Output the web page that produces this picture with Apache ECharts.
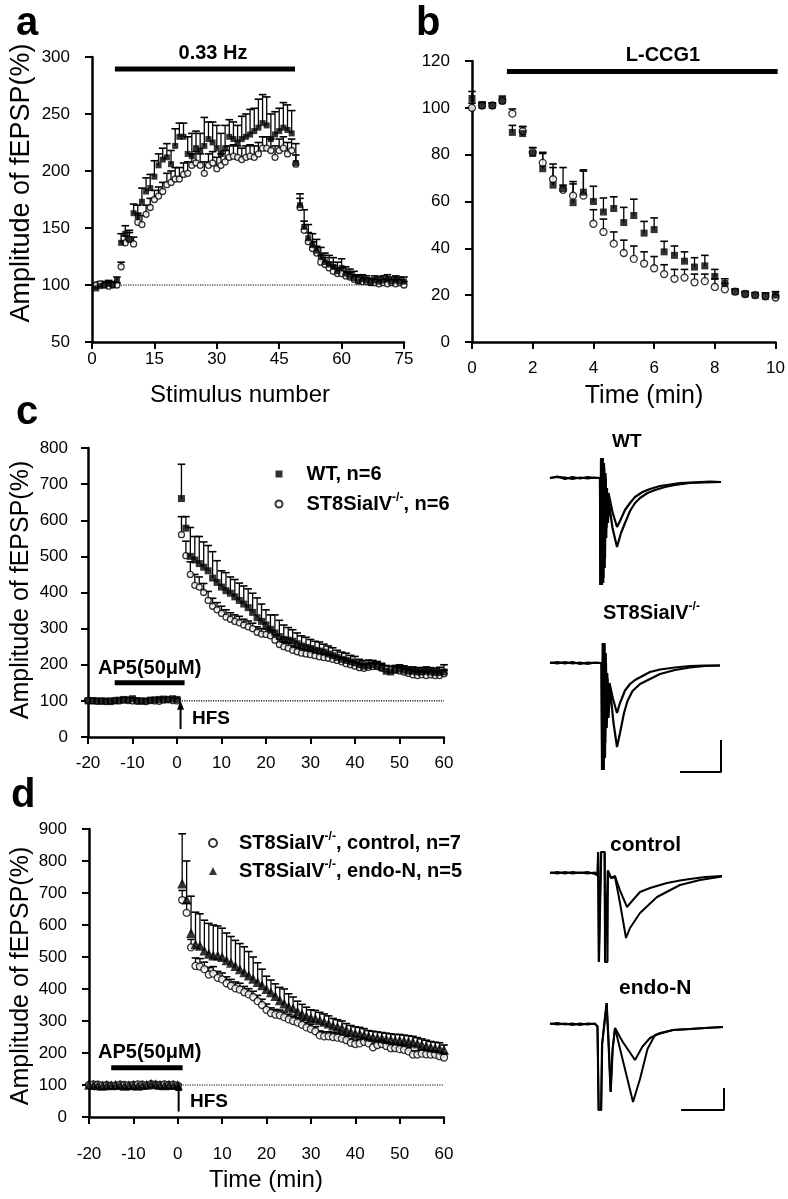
<!DOCTYPE html>
<html>
<head>
<meta charset="utf-8">
<script src="https://cdn.jsdelivr.net/npm/echarts@6/dist/echarts.min.js"></script>
<style>
html,body{margin:0;padding:0;background:#fff;}
#chart{width:788px;height:1199px;}
</style>
</head>
<body>
<div id="chart"></div>
<script>
// ---------------- Panel a: stimulus number vs amplitude ----------------
const aStim = [1,2,3,4,5,6,7,8,9,10,11,12,13,14,15,16,17,18,19,20,21,22,23,24,25,26,27,28,29,30,31,32,33,34,35,36,37,38,39,40,41,42,43,44,45,46,47,48,49,50,51,52,53,54,55,56,57,58,59,60,61,62,63,64,65,66,67,68,69,70,71,72,73,74,75];
const aWT = [97,99,100,101,100,104,137,145,140,163, 160,173,182,185,195,205,210,212,206,222, 230,230,215,213,220,218,222,228,225,220, 215,220,230,228,225,228,230,232,235,238, 242,240,228,232,235,238,236,233,207,170, 151,141,135,130,125,120,118,116,112,115, 110,108,106,103,105,104,102,104,103,104, 105,103,104,103,103];
const aWTErr = [3,3,3,3,3,3,8,7,8,8, 10,12,12,12,14,10,10,12,12,15, 12,12,15,20,15,15,25,15,18,20, 18,20,15,15,15,20,20,22,20,25, 25,25,22,20,20,22,22,20,17,10, 15,12,10,10,8,8,8,8,8,8, 6,6,6,6,4,4,4,4,4,4, 4,4,4,4,4];
const aKO = [100,101,100,99,100,100,116,137,140,136, 155,153,162,168,175,178,182,188,190,193, 193,197,198,205,207,205,198,205,207,202, 205,208,212,213,212,210,212,213,212,215, 220,220,218,212,218,220,215,218,206,168, 148,138,132,128,120,118,115,112,110,110, 108,107,105,104,103,103,102,102,101,102, 101,102,101,102,100];
const aKOErr = [2,2,2,2,2,2,4,6,6,6, 8,8,8,8,8,8,8,10,10,10, 10,10,10,10,10,10,10,10,10,10, 10,10,10,10,10,10,10,10,10,10, 10,10,10,10,10,10,10,10,8,8, 8,8,6,6,6,6,5,5,5,5, 4,4,4,4,3,3,3,3,3,3, 3,3,3,3,3];
const aTicksX = [0, 75, 15];      // min, max, interval
const aTicksY = [50, 300, 50];
const aStimBar = [[5.5, 289.5], [48.8, 289.5]];   // 0.33 Hz period
const baseline = 100;

// ---------------- Panel b: L-CCG1 time course ----------------
const bTime = [0,0.33,0.67,1,1.33,1.67,2,2.33,2.67,3,3.33,3.67,4,4.33,4.67,5,5.33,5.67,6,6.33,6.67,7,7.33,7.67,8,8.33,8.67,9,9.33,9.67,10];
const bWT = [104,101,101,103,89.5,89,80.5,74,67,65.5,59.5,64,60,55.5,57,51,54,46.5,48,38.5,37,34.5,32,32.5,28,25,21.5,20.5,20,19.5,20];
const bWTErr = [3,1.5,1,2,3,3,2.5,7,9,9,8,9,6.5,6,5,6.5,7,5,5,4.5,4,4,4,4.5,3,2,1,1,1,1.5,1.5];
const bKO = [100,101,101,103,97.5,90,81,76.5,69.5,65,62.5,62.5,50.5,47,42,38,35.5,33.5,31.5,29,27,27.5,25.5,26,23.5,22.5,21.5,20.5,20,19.5,19];
const bKOErr = [2,1,1,1,2,2,2,4,5,2,6,11,6,5.5,5,5.5,5.5,5,5,4,4,3.5,3.5,3,3.5,2.5,1,1,1,1,1];
const bTicksX = [0, 10, 2];
const bTicksY = [0, 120, 20];
const bDrugBar = [[1.15, 115.5], [10.07, 115.5]];   // L-CCG1 period

// ---------------- Panels c & d: LTP time course ----------------
const cdTime = [-20,-19,-18,-17,-16,-15,-14,-13,-12,-11,-10,-9,-8,-7,-6,-5,-4,-3,-2,-1,0,
  1,2,3,4,5,6,7,8,9,10,11,12,13,14,15,16,17,18,19,20,21,22,23,24,25,26,27,28,29,30,
  31,32,33,34,35,36,37,38,39,40,41,42,43,44,45,46,47,48,49,50,51,52,53,54,55,56,57,58,59,60];
const cWT = [100,101,100,99,100,98,100,102,104,103,106,101,99,100,102,103,104,105,104,106,104,
  660,578,500,490,480,470,460,440,428,415, 405,398,388,378,368,358,345,330,320,310,
  298,288,278,270,268,265,258,252,248,245, 240,238,235,230,225,220,215,212,208,205,
  200,196,198,200,197,192,182,180,186,188, 185,182,182,180,180,182,180,178,178,180];
const cWTErr = [3,3,3,3,3,3,3,3,3,3,3,3,3,3,3,3,3,3,3,3,3,
  95,32,80,65,75,70,70,73,60,45, 50,45,48,48,50,52,53,55,48,42,
  40,50,45,40,35,32,30,28,28,25, 25,25,22,22,22,20,20,20,18,18,
  15,15,15,12,12,12,12,12,12,12, 12,12,12,12,12,12,12,12,15,20];
const cKO = [101,100,99,100,98,100,101,100,102,101,100,99,100,98,101,100,99,102,103,101,100,
  560,502,450,420,415,400,378,362,352,342, 332,326,320,316,310,305,300,290,285,284,
  280,268,256,250,246,240,236,232,230,228, 225,222,220,218,215,212,208,203,200,196,
  192,190,193,195,195,190,188,186,185,183, 180,176,172,170,172,170,172,170,170,175];
const cKOErr = [3,3,3,3,3,3,3,3,3,3,3,3,3,3,3,3,3,3,3,3,3,
  50,40,35,30,28,25,25,22,20,20, 20,18,18,18,16,16,15,15,15,15,
  15,15,14,14,14,12,12,12,12,12, 12,10,10,10,10,10,10,10,10,10,
  10,10,10,10,10,10,10,10,10,10, 10,10,10,10,10,10,10,10,10,10];
const dCtrl = [100,102,101,99,100,98,99,101,100,99,100,102,101,99,103,101,100,102,100,101,98,
  678,638,530,472,470,462,445,448,435,430, 418,410,402,398,390,383,375,362,350,335,
  325,320,318,312,305,300,295,288,280,275, 268,255,252,252,250,248,245,240,232,228,
  230,235,230,218,225,228,222,215,215,212, 210,205,195,195,198,196,195,195,190,186];
const dCtrlErr = [3,3,3,3,3,3,3,3,3,3,3,3,3,3,3,3,3,3,3,3,3,
  30,30,25,25,25,22,22,22,20,20, 20,20,20,20,18,18,18,18,18,18,
  16,16,16,16,16,15,15,15,15,15, 14,14,14,14,14,14,14,14,12,12,
  12,12,12,12,12,12,12,12,12,12, 12,12,12,12,12,12,12,12,12,12];
const dEndo = [101,100,99,98,100,99,101,100,98,99,100,98,100,101,104,102,100,99,101,100,100,
  730,680,575,540,535,520,510,505,505,500, 490,482,472,462,452,442,432,422,412,400,
  390,378,365,355,345,340,330,322,315,310, 308,302,298,292,286,282,278,272,266,262,
  260,256,252,250,248,246,244,242,240,240, 238,236,234,230,226,222,218,216,214,210];
const dEndoErr = [3,3,3,3,3,3,3,3,3,3,3,3,3,3,3,3,3,3,3,3,3,
  155,120,115,100,100,95,95,95,92,90, 85,82,80,80,80,75,68,60,50,40,
  38,38,40,45,40,35,32,30,28,25, 25,25,24,24,22,22,22,20,20,20,
  20,20,18,18,18,18,18,18,18,18, 18,18,18,18,18,18,18,18,18,15];
const cdTicksX = [-20, 60, 10];
const cTicksY = [0, 800, 100];
const dTicksY = [0, 900, 100];
const cAP5Bar = [[-14, 150], [1.7, 150]];
const dAP5Bar = [[-15, 154], [1.1, 154]];
const cHFS = [[0.8, 22], [0.8, 88]];
const dHFS = [[0.2, 17], [0.2, 95]];
const cdDotted = [[0, 100], [60, 100]];

// ---------------- Example fEPSP traces ([ms, mV]) ----------------
const trWTpre = [[0,0],[1.5,0.03],[3,-0.02],[4.5,0.02],[6,-0.01],[7.5,0.02],[9,0],[10,0],[10.05,-2.14],[10.2,0.4],[10.35,-2.14],[10.5,0.4],[10.65,-2.1],[10.8,0.3],[10.95,-1.8],[11.1,0.1],[11.25,-1.2],[11.4,-0.2],[11.55,-0.8],[11.7,-0.3],[12.5,-0.68],[13.4,-0.98],[14,-0.86],[15,-0.64],[16,-0.5],[17,-0.38],[18.5,-0.28],[20,-0.22],[22,-0.16],[24,-0.13],[26,-0.1],[28,-0.09],[30,-0.08],[32,-0.07],[34.2,-0.08]];
const trWTpost = [[0,0],[1.5,0.02],[3,0.01],[4.5,-0.02],[6,0.01],[7.5,-0.01],[9,0.01],[10,0],[10.1,-2.14],[10.25,0.4],[10.4,-2.14],[10.55,0.4],[10.7,-2.0],[10.85,0.2],[11.0,-1.6],[11.15,0.0],[11.3,-1.0],[11.45,-0.3],[11.6,-0.9],[11.8,-0.5],[12.5,-1.0],[13.4,-1.38],[14.2,-1.1],[15,-0.9],[16,-0.66],[17,-0.5],[18,-0.4],[19.5,-0.3],[21,-0.24],[23,-0.18],[25,-0.14],[28,-0.1],[31,-0.09],[34.2,-0.08]];
const trKOpre = [[0,0],[1.5,0.02],[3,-0.01],[4.5,0.02],[6,-0.02],[7.5,0.01],[9,0],[10.3,0],[10.4,-2.14],[10.55,0.4],[10.7,-2.14],[10.85,0.4],[11.0,-1.9],[11.15,0.2],[11.3,-1.2],[11.45,-0.2],[11.6,-1.0],[11.9,-0.4],[12.6,-0.72],[13.4,-1.0],[14,-0.8],[15,-0.55],[16,-0.42],[17,-0.34],[18.5,-0.26],[20,-0.18],[22,-0.13],[25,-0.09],[28,-0.06],[31,-0.05],[34,-0.05]];
const trKOpost = [[0,0.01],[1.5,-0.01],[3,0.02],[4.5,-0.01],[6,0.01],[7.5,-0.02],[9,0.01],[10.3,0],[10.45,-2.14],[10.6,0.4],[10.75,-2.14],[10.9,0.4],[11.05,-1.6],[11.2,0.0],[11.35,-1.3],[11.5,-0.3],[11.7,-1.1],[12,-0.5],[12.7,-1.2],[13.4,-1.68],[14,-1.4],[14.8,-1.0],[15.5,-0.76],[16.5,-0.56],[18,-0.42],[20,-0.32],[22,-0.22],[25,-0.14],[28,-0.09],[31,-0.06],[34,-0.05]];
const trCtrlPre = [[0,0],[1.5,0.02],[3,-0.01],[4.5,0.02],[6,0],[7.5,0.02],[9,-0.02],[9.5,-0.05],[9.6,0.42],[9.75,-1.78],[10.1,-1.78],[10.2,0.42],[10.9,0.42],[11.0,-1.78],[11.5,-1.78],[11.6,0.05],[12.2,-0.1],[13,-0.06],[14,-0.35],[15.4,-0.68],[16.5,-0.55],[18,-0.38],[20,-0.3],[23.4,-0.2],[26,-0.15],[28,-0.12],[31,-0.08],[34.4,-0.06]];
const trCtrlPost = [[0,0.01],[1.5,-0.01],[3,0.02],[4.5,-0.01],[6,0.01],[7.5,-0.01],[9,0.01],[9.5,-0.05],[9.65,0.42],[9.8,-1.78],[10.15,-1.78],[10.25,0.42],[10.95,0.42],[11.05,-1.78],[11.45,-1.78],[11.55,0.05],[12.2,-0.1],[13,-0.08],[14,-0.6],[15.2,-1.3],[16,-1.1],[18,-0.8],[21.4,-0.48],[26,-0.24],[30,-0.14],[34.4,-0.07]];
const trEndoPre = [[0,0],[1.5,0.02],[3,-0.01],[4.5,0.01],[6,-0.02],[7.5,0.01],[9,0],[9.5,-0.05],[9.7,-1.72],[10.2,-1.72],[10.4,-0.4],[11.3,0.42],[11.7,-0.4],[12.1,-1.36],[12.5,-0.5],[13,-0.08],[14.5,-0.35],[17,-0.72],[18.5,-0.45],[20,-0.28],[22,-0.18],[24.6,-0.12],[28,-0.1],[31,-0.08],[34.6,-0.06]];
const trEndoPost = [[0,0.01],[1.5,-0.01],[3,0.01],[4.5,-0.02],[6,0.01],[7.5,-0.01],[9,0.01],[9.5,-0.05],[9.75,-1.72],[10.25,-1.72],[10.45,-0.4],[11.35,0.42],[11.75,-0.4],[12.15,-1.36],[12.55,-0.5],[13,-0.08],[14.5,-0.7],[16.6,-1.56],[18,-1.1],[19.5,-0.5],[21,-0.22],[24.6,-0.12],[28,-0.1],[31,-0.08],[34.6,-0.06]];
const scaleBarC = [[26,-2.18],[34.2,-2.18],[34.2,-1.54]];
const scaleBarD = [[26.2,-1.72],[34.8,-1.72],[34.8,-1.28]];

// ---------------- Build chart ----------------
const FONT = 'Liberation Sans, Arial, Helvetica, sans-serif';
const BLACK = '#000';

function valAxis(gi, t, margin) {
  return {
    type: 'value', gridIndex: gi, min: t[0], max: t[1], interval: t[2],
    axisLine: {show: true, onZero: false, lineStyle: {color: BLACK, width: 2.5}},
    axisTick: {show: true, length: 7, lineStyle: {color: BLACK, width: 2}},
    axisLabel: {color: BLACK, fontSize: 17, fontFamily: FONT, margin: margin},
    splitLine: {show: false}
  };
}
function hiddenAxis(gi, min, max) {
  return {type: 'value', gridIndex: gi, min: min, max: max, show: false, splitLine: {show: false}};
}

function errRender(params, api) {
  const x = api.value(0), y = api.value(1), e = api.value(2);
  const p0 = api.coord([x, y]);
  const p1 = api.coord([x, y + e]);
  const hw = 3.8;
  return {
    type: 'group',
    children: [
      {type: 'line', shape: {x1: p0[0], y1: p0[1], x2: p1[0], y2: p1[1]}, style: {stroke: BLACK, lineWidth: 1.3}},
      {type: 'line', shape: {x1: p1[0] - hw, y1: p1[1], x2: p1[0] + hw, y2: p1[1]}, style: {stroke: BLACK, lineWidth: 1.6}}
    ]
  };
}
function errSeries(gi, xs, ys, es) {
  return {
    type: 'custom', xAxisIndex: gi, yAxisIndex: gi, silent: true, clip: false, z: 2,
    data: xs.map((x, i) => [x, ys[i], es[i]]),
    encode: {x: 0, y: 1},
    renderItem: errRender
  };
}
const MARK = {
  square: {symbol: 'rect', symbolSize: 6, itemStyle: {color: BLACK}},
  circle: {symbol: 'circle', symbolSize: 6, itemStyle: {color: '#fff', borderColor: BLACK, borderWidth: 1.3}},
  triangle: {symbol: 'triangle', symbolSize: 9, itemStyle: {color: BLACK}}
};
function scatterSeries(name, gi, xs, ys, kind, size, z) {
  const m = MARK[kind];
  return {
    type: 'scatter', name: name, xAxisIndex: gi, yAxisIndex: gi, clip: false, silent: true,
    symbol: m.symbol, symbolSize: size || m.symbolSize, itemStyle: m.itemStyle, z: z || 3,
    data: xs.map((x, i) => [x, ys[i]])
  };
}
function lineSeries(gi, data, width, type, z) {
  return {
    type: 'line', xAxisIndex: gi, yAxisIndex: gi, data: data, symbol: 'none', silent: true, clip: false,
    lineStyle: {color: BLACK, width: width, type: type || 'solid'}, z: z || 1
  };
}
function arrowSeries(gi, pts) {
  return {
    type: 'line', xAxisIndex: gi, yAxisIndex: gi, silent: true, clip: false, z: 4,
    lineStyle: {color: BLACK, width: 2},
    data: [
      {value: pts[0], symbol: 'none'},
      {value: pts[1], symbol: 'triangle', symbolSize: [7, 9], itemStyle: {color: BLACK}}
    ]
  };
}
function traceSeries(gi, data, w) {
  return {
    type: 'line', xAxisIndex: gi, yAxisIndex: gi, data: data, symbol: 'none', silent: true, clip: false,
    lineStyle: {color: BLACK, width: w || 2.2}, z: 2
  };
}
function txt(x, y, text, size, weight, align, valign, extra) {
  const s = {
    text: text, fontSize: size, fontWeight: weight || 'normal', fontFamily: FONT, fill: BLACK,
    align: align || 'left', verticalAlign: valign || 'middle',
    textAlign: align || 'left', textVerticalAlign: valign || 'middle'
  };
  if (extra) Object.assign(s, extra);
  return {type: 'text', x: x, y: y, style: s, silent: true};
}
function vtxt(x, y, text, size) {
  const e = txt(x, y, text, size, 'normal', 'center', 'middle');
  e.rotation = Math.PI / 2;
  return e;
}

const rich = {
  sp: {width: 19},
  sp2: {width: 17},
  b: {fontSize: 20, fontWeight: 'bold', fontFamily: FONT, color: BLACK, lineHeight: 24},
  s: {fontSize: 12, fontWeight: 'bold', fontFamily: FONT, color: BLACK, lineHeight: 12, verticalAlign: 'top'}
};
const legendLabels = {
  'WT, n=6': '{sp|}{b|WT, n=6}',
  'ST8SiaIV-/-, n=6': '{sp|}{b|ST8SiaIV}{s|-/-}{b|, n=6}',
  'ST8SiaIV-/-, control, n=7': '{sp2|}{b|ST8SiaIV}{s|-/-}{b|, control, n=7}',
  'ST8SiaIV-/-, endo-N, n=5': '{sp2|}{b|ST8SiaIV}{s|-/-}{b|, endo-N, n=5}'
};

const option = {
  animation: false,
  backgroundColor: '#fff',
  grid: [
    {left: 92, top: 57, width: 312, height: 285},
    {left: 472, top: 61, width: 304, height: 281},
    {left: 88, top: 448, width: 356, height: 289},
    {left: 89, top: 829, width: 355, height: 288},
    {left: 550, top: 440, width: 180, height: 160},
    {left: 550, top: 625, width: 180, height: 160},
    {left: 550, top: 835, width: 180, height: 160},
    {left: 550, top: 986, width: 180, height: 160}
  ],
  xAxis: [
    valAxis(0, aTicksX, 9), valAxis(1, bTicksX, 18), valAxis(2, cdTicksX, 18), valAxis(3, cdTicksX, 29),
    hiddenAxis(4, 0, 36), hiddenAxis(5, 0, 36), hiddenAxis(6, 0, 36), hiddenAxis(7, 0, 36)
  ],
  yAxis: [
    valAxis(0, aTicksY, 22), valAxis(1, bTicksY, 22), valAxis(2, cTicksY, 20), valAxis(3, dTicksY, 22),
    hiddenAxis(4, -2.44, 0.76), hiddenAxis(5, -2.44, 0.76), hiddenAxis(6, -2.44, 0.76), hiddenAxis(7, -2.44, 0.76)
  ],
  legend: [
    {
      data: ['WT, n=6', 'ST8SiaIV-/-, n=6'], orient: 'vertical', left: 274.5, top: 464,
      padding: 0, itemWidth: 7, itemHeight: 7, itemGap: 8, selectedMode: false,
      formatter: n => legendLabels[n], textStyle: {rich: rich, color: BLACK}
    },
    {
      data: ['ST8SiaIV-/-, control, n=7', 'ST8SiaIV-/-, endo-N, n=5'], orient: 'vertical', left: 208, top: 831,
      padding: 0, itemWidth: 8, itemHeight: 8, itemGap: 6, selectedMode: false,
      formatter: n => legendLabels[n], textStyle: {rich: rich, color: BLACK}
    }
  ],
  series: [
    // panel a
    lineSeries(0, [[0, baseline], [75, baseline]], 1.2, 'dotted'),
    lineSeries(0, aStimBar, 5),
    errSeries(0, aStim, aKO, aKOErr),
    errSeries(0, aStim, aWT, aWTErr),
    scatterSeries('ST8SiaIV-/- (a)', 0, aStim, aKO, 'circle'),
    scatterSeries('WT (a)', 0, aStim, aWT, 'square', 6, 4),
    // panel b
    lineSeries(1, bDrugBar, 5),
    errSeries(1, bTime, bKO, bKOErr),
    errSeries(1, bTime, bWT, bWTErr),
    scatterSeries('ST8SiaIV-/- (b)', 1, bTime, bKO, 'circle', 7),
    scatterSeries('WT (b)', 1, bTime, bWT, 'square', 7, 4),
    // panel c
    lineSeries(2, cdDotted, 1.2, 'dotted'),
    lineSeries(2, cAP5Bar, 5),
    arrowSeries(2, cHFS),
    errSeries(2, cdTime, cKO, cKOErr),
    errSeries(2, cdTime, cWT, cWTErr),
    scatterSeries('ST8SiaIV-/-, n=6', 2, cdTime, cKO, 'circle'),
    scatterSeries('WT, n=6', 2, cdTime, cWT, 'square', 7, 4),
    // panel d
    lineSeries(3, cdDotted, 1.2, 'dotted'),
    lineSeries(3, dAP5Bar, 5),
    arrowSeries(3, dHFS),
    errSeries(3, cdTime, dCtrl, dCtrlErr),
    errSeries(3, cdTime, dEndo, dEndoErr),
    scatterSeries('ST8SiaIV-/-, control, n=7', 3, cdTime, dCtrl, 'circle', 7),
    scatterSeries('ST8SiaIV-/-, endo-N, n=5', 3, cdTime, dEndo, 'triangle', 10, 4),
    // traces
    traceSeries(4, trWTpre), traceSeries(4, trWTpost),
    traceSeries(5, trKOpre), traceSeries(5, trKOpost), traceSeries(5, scaleBarC, 2),
    traceSeries(6, trCtrlPre, 2), traceSeries(6, trCtrlPost, 2),
    traceSeries(7, trEndoPre, 2), traceSeries(7, trEndoPost, 2), traceSeries(7, scaleBarD, 2)
  ],
  graphic: [
    txt(16, 24, 'a', 40, 'bold'),
    txt(416, 24, 'b', 40, 'bold'),
    txt(16, 413, 'c', 40, 'bold'),
    txt(11, 796, 'd', 40, 'bold'),
    txt(213, 53, '0.33 Hz', 20, 'bold', 'center'),
    txt(663, 55, 'L-CCG1', 20, 'bold', 'center'),
    vtxt(22, 183, 'Amplitude of fEPSP(%)', 27),
    vtxt(21, 590, 'Amplitude of fEPSP(%)', 25),
    vtxt(21, 976, 'Amplitude of fEPSP(%)', 25),
    txt(240, 395, 'Stimulus number', 24, 'normal', 'center'),
    txt(644, 396, 'Time (min)', 25, 'normal', 'center'),
    txt(266, 1180, 'Time (min)', 24, 'normal', 'center'),
    txt(98, 668, 'AP5(50μM)', 20, 'bold'),
    txt(98, 1052, 'AP5(50μM)', 20, 'bold'),
    txt(192, 719, 'HFS', 19, 'bold'),
    txt(190, 1102, 'HFS', 19, 'bold'),
    txt(612, 442, 'WT', 19, 'bold'),
    {type: 'text', x: 603, y: 613, silent: true, style: {
      text: '{b|ST8SiaIV}{s|-/-}', rich: rich, fill: BLACK, fontFamily: FONT,
      align: 'left', verticalAlign: 'middle', textAlign: 'left', textVerticalAlign: 'middle'}},
    txt(610, 845, 'control', 21, 'bold'),
    txt(619, 988, 'endo-N', 21, 'bold')
  ]
};

const chart = echarts.init(document.getElementById('chart'), null, {renderer: 'canvas'});
chart.setOption(option);
</script>
</body>
</html>
